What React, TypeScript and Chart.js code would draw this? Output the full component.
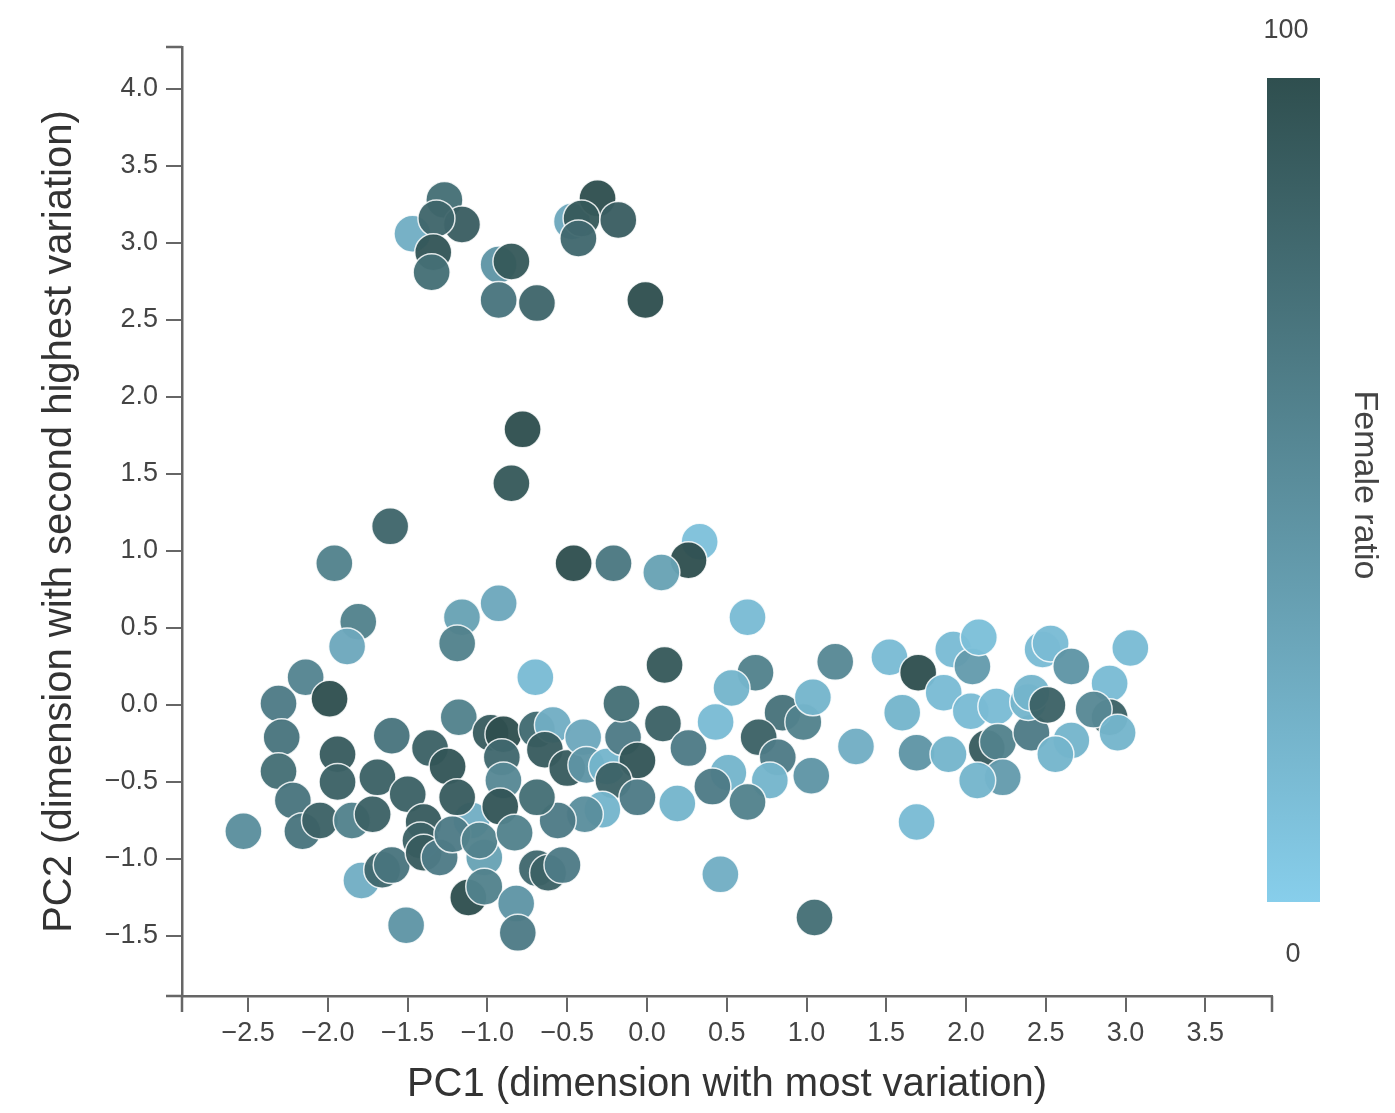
import React, { useEffect, useRef } from "react";
import { Chart, registerables } from "chart.js";

Chart.register(...registerables);

// PC1 / PC2 coordinates and female ratio (0-100) of each point
const pc1: number[] = [
  -1.47, -1.27, -1.16, -1.32, -1.34, -1.35, -0.93, -0.85, -0.93, -0.69, -0.47, -0.31, -0.41, -0.18, -0.43, -0.01,
  -0.78, -0.85, -1.61, -1.96, -0.46, -0.21, 0.33, 0.26, 0.09, -0.93, -1.16, -1.19, -1.81, -1.88, -0.70, -2.14, -1.99,
  0.11, 0.63, 0.68, 0.53, 1.18, 0.43, 0.10, 0.85, 0.98, 1.04, 0.70, 0.26, 0.82, 1.31, 0.51, 0.41, 1.03, 0.77, 0.63,
  0.19, 0.46, 1.05,
  1.69, 1.52, 1.70, 1.60, 1.86, 1.92, 2.04, 2.08, 2.03, 2.19, 1.69, 1.89, 2.13, 2.20, 2.23, 2.07, 2.41, 2.39, 2.41,
  2.51, 2.48, 2.53, 2.66, 2.90, 3.03, 2.90, 2.80, 2.95, 2.66, 2.56,
  -2.53, -2.31, -2.29, -2.31, -2.22, -2.16, -2.05, -1.94, -1.94, -1.85, -1.72, -1.69, -1.79, -1.66, -1.60, -1.60,
  -1.50, -1.51, -1.36, -1.25, -1.18, -1.10, -1.19, -1.40, -1.42, -1.40, -1.30, -1.22, -1.02, -1.05, -1.12, -1.02,
  -0.82, -0.81, -0.98, -0.90, -0.91, -0.90, -0.92, -0.83, -0.69, -0.59, -0.64, -0.50, -0.40, -0.38, -0.25, -0.15,
  -0.16, -0.06, -0.21, -0.06, -0.28, -0.39, -0.56, -0.69, -0.69, -0.62, -0.53,
];
const pc2: number[] = [
  3.06, 3.28, 3.12, 3.16, 2.94, 2.81, 2.86, 2.88, 2.63, 2.61, 3.14, 3.29, 3.16, 3.15, 3.03, 2.63,
  1.79, 1.44, 1.16, 0.92, 0.92, 0.92, 1.06, 0.94, 0.86, 0.66, 0.57, 0.40, 0.54, 0.38, 0.18, 0.18, 0.04,
  0.26, 0.57, 0.21, 0.11, 0.28, -0.11, -0.12, -0.05, -0.11, 0.05, -0.21, -0.28, -0.34, -0.27, -0.44, -0.53, -0.46,
  -0.49, -0.63, -0.64, -1.10, -1.38,
  -0.76, 0.31, 0.21, -0.05, 0.08, 0.36, 0.25, 0.44, -0.04, -0.01, -0.31, -0.32, -0.28, -0.24, -0.47, -0.49, -0.18,
  0.02, 0.08, 0.0, 0.36, 0.40, 0.25, 0.14, 0.37, -0.08, -0.03, -0.18, -0.23, -0.32,
  -0.82, 0.01, -0.21, -0.43, -0.62, -0.82, -0.75, -0.32, -0.50, -0.75, -0.71, -0.47, -1.14, -1.07, -1.04, -0.20,
  -0.58, -1.43, -0.28, -0.40, -0.08, -0.75, -0.60, -0.76, -0.88, -0.96, -0.99, -0.84, -0.99, -0.88, -1.25, -1.18,
  -1.29, -1.48, -0.18, -0.19, -0.34, -0.49, -0.66, -0.83, -0.16, -0.13, -0.29, -0.41, -0.21, -0.39, -0.40, -0.21,
  0.01, -0.36, -0.49, -0.60, -0.68, -0.71, -0.75, -0.60, -1.06, -1.09, -1.04,
];
const femaleRatio: number[] = [
  25, 75, 88, 82, 95, 75, 45, 92, 70, 82, 30, 100, 92, 88, 80, 100,
  100, 92, 82, 60, 100, 68, 10, 100, 35, 30, 35, 60, 60, 30, 15, 58, 100,
  92, 15, 60, 20, 55, 15, 85, 72, 60, 20, 85, 65, 65, 25, 20, 65, 45, 20, 60,
  20, 25, 75,
  15, 15, 100, 20, 15, 15, 40, 12, 15, 15, 45, 20, 90, 60, 40, 20, 65, 20, 20,
  85, 15, 15, 45, 15, 15, 85, 55, 20, 20, 20,
  50, 65, 70, 75, 70, 70, 85, 90, 85, 60, 85, 85, 25, 80, 70, 70,
  85, 45, 85, 95, 60, 25, 90, 90, 85, 90, 65, 65, 35, 60, 100, 60,
  45, 65, 90, 100, 80, 55, 95, 60, 78, 25, 90, 90, 30, 45, 20, 65,
  75, 95, 85, 65, 20, 50, 65, 75, 80, 85, 65,
];

const xTickValues: number[] = [-2.5, -2.0, -1.5, -1.0, -0.5, 0.0, 0.5, 1.0, 1.5, 2.0, 2.5, 3.0, 3.5];
const yTickValues: number[] = [-1.5, -1.0, -0.5, 0.0, 0.5, 1.0, 1.5, 2.0, 2.5, 3.0, 3.5, 4.0];
const xRange: number[] = [-2.915, 3.918];
const yRange: number[] = [-1.89, 4.273];
const colorbarTicks: string[] = ["100", "0"];

const LOW = [135, 206, 235]; // skyblue (0)
const HIGH = [47, 79, 79]; // darkslategray (100)
const colorFor = (v: number, a = 1) => {
  const t = Math.max(0, Math.min(1, v / 100));
  const c = LOW.map((l, i) => Math.round(l + (HIGH[i] - l) * t));
  return `rgba(${c[0]},${c[1]},${c[2]},${a})`;
};
const fmt = (v: number) => v.toFixed(1).replace("-", "\u2212");
const FONT = "'Liberation Sans', Arial, sans-serif";
const TEXT = "#444";
const AXIS = "#666";

const extras = {
  id: "extras",
  afterDraw(chart: any) {
    const { ctx, chartArea } = chart;
    const { left, right, top, bottom } = chartArea;
    ctx.save();
    // outer ticks (d3 style)
    ctx.strokeStyle = AXIS;
    ctx.lineWidth = 2.5;
    ctx.beginPath();
    ctx.moveTo(left - 16, top);
    ctx.lineTo(left, top);
    ctx.moveTo(left - 16, bottom);
    ctx.lineTo(left, bottom);
    ctx.moveTo(left, bottom);
    ctx.lineTo(left, bottom + 16);
    ctx.moveTo(right, bottom);
    ctx.lineTo(right, bottom + 16);
    ctx.stroke();
    // colour bar
    const bx = 1267, bw = 53, by = 78, bh = 824;
    const g = ctx.createLinearGradient(0, by, 0, by + bh);
    g.addColorStop(0, colorFor(100));
    g.addColorStop(1, colorFor(0));
    ctx.fillStyle = g;
    ctx.fillRect(bx, by, bw, bh);
    ctx.fillStyle = TEXT;
    ctx.font = `27px ${FONT}`;
    ctx.textAlign = "center";
    ctx.textBaseline = "middle";
    ctx.fillText(colorbarTicks[0], 1286, 31);
    ctx.fillText(colorbarTicks[1], 1293, 955);
    ctx.translate(1364, 485);
    ctx.rotate(Math.PI / 2);
    ctx.font = `34px ${FONT}`;
    ctx.fillText("Female ratio", 0, 0);
    ctx.restore();
  },
};

export default function App() {
  const ref = useRef<HTMLCanvasElement | null>(null);
  useEffect(() => {
    if (!ref.current) return;
    const data = pc1.map((x, i) => ({ x, y: pc2[i] }));
    const chart = new Chart(ref.current, {
      type: "scatter",
      data: {
        datasets: [
          {
            data,
            backgroundColor: femaleRatio.map((v) => colorFor(v, 0.96)),
            borderColor: "rgba(255,255,255,0.85)",
            borderWidth: 1.5,
            pointRadius: 18.5,
            pointHoverRadius: 18.5,
          },
        ],
      },
      options: {
        animation: false,
        responsive: false,
        maintainAspectRatio: false,
        layout: { padding: { top: 47, right: 123, left: 0, bottom: 0 } },
        plugins: { legend: { display: false }, tooltip: { enabled: false } },
        scales: {
          x: {
            type: "linear",
            min: xRange[0],
            max: xRange[1],
            afterFit: (s: any) => {
              s.height = 117;
            },
            afterBuildTicks: (s: any) => {
              s.ticks = xTickValues.map((value) => ({ value }));
            },
            grid: { drawOnChartArea: false, drawTicks: true, tickLength: 16, color: AXIS, lineWidth: 2 },
            border: { display: true, color: AXIS, width: 2.5 },
            ticks: {
              autoSkip: false,
              maxRotation: 0,
              padding: 5,
              color: TEXT,
              font: { family: FONT, size: 27 },
              callback: (v: any) => fmt(Number(v)),
            },
            title: {
              display: true,
              text: "PC1 (dimension with most variation)",
              color: "#333",
              font: { family: FONT, size: 40 },
              padding: { top: 0, bottom: 4 },
            },
          },
          y: {
            type: "linear",
            min: yRange[0],
            max: yRange[1],
            afterFit: (s: any) => {
              s.width = 182;
            },
            afterBuildTicks: (s: any) => {
              s.ticks = yTickValues.map((value) => ({ value }));
            },
            grid: { drawOnChartArea: false, drawTicks: true, tickLength: 16, color: AXIS, lineWidth: 2 },
            border: { display: true, color: AXIS, width: 2.5 },
            ticks: {
              autoSkip: false,
              padding: 8,
              color: TEXT,
              font: { family: FONT, size: 27 },
              callback: (v: any) => fmt(Number(v)),
            },
            title: {
              display: true,
              text: "PC2 (dimension with second highest variation)",
              color: "#333",
              font: { family: FONT, size: 40 },
              padding: { top: 36, bottom: 0 },
            },
          },
        },
      },
      plugins: [extras],
    });
    return () => chart.destroy();
  }, []);
  return (
    <div style={{ position: "absolute", left: 0, top: 0, width: 1395, height: 1113, background: "#fff" }}>
      <canvas ref={ref} width={1395} height={1113} style={{ width: 1395, height: 1113 }} />
    </div>
  );
}
